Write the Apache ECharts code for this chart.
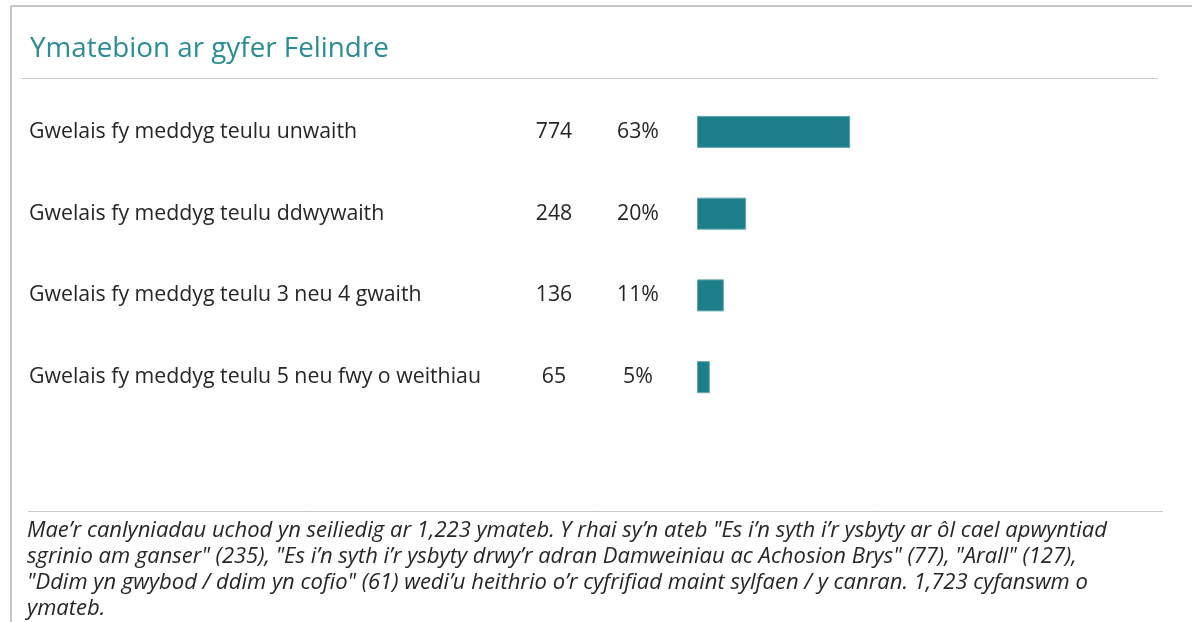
<!DOCTYPE html>
<html>
<head>
<meta charset="utf-8">
<script src="https://cdn.jsdelivr.net/npm/echarts@6/dist/echarts.min.js"></script>
<style>
html,body{margin:0;padding:0;background:#fff;}
#chart{width:1192px;height:622px;}
</style>
</head>
<body>
<div id="chart"></div>
<script>
const titleText = 'Ymatebion ar gyfer Felindre';
const categories = [
  'Gwelais fy meddyg teulu unwaith',
  'Gwelais fy meddyg teulu ddwywaith',
  'Gwelais fy meddyg teulu 3 neu 4 gwaith',
  'Gwelais fy meddyg teulu 5 neu fwy o weithiau'
];
const counts = [774, 248, 136, 65];
const percents = [63.3, 20.3, 11.1, 5.3];
const percentLabels = ['63%', '20%', '11%', '5%'];
const footnoteLines = [
  'Mae\u2019r canlyniadau uchod yn seiliedig ar 1,223 ymateb. Y rhai sy\u2019n ateb "Es i\u2019n syth i\u2019r ysbyty ar \u00f4l cael apwyntiad',
  'sgrinio am ganser" (235), "Es i\u2019n syth i\u2019r ysbyty drwy\u2019r adran Damweiniau ac Achosion Brys" (77), "Arall" (127),',
  '"Ddim yn gwybod / ddim yn cofio" (61) wedi\u2019u heithrio o\u2019r cyfrifiad maint sylfaen / y canran. 1,723 cyfanswm o',
  'ymateb.'
];

const FONT = '"Open Sans", Lato, sans-serif';
const TEXT = '#262626';
const chart = echarts.init(document.getElementById('chart'), null, {renderer: 'canvas'});

const gridLeft = 697;
chart.setOption({
  animation: false,
  title: {
    text: titleText,
    left: 25, top: 30,
    textStyle: {color: '#2a8c94', fontSize: 27.8, fontWeight: 'normal', fontFamily: FONT}
  },
  grid: {left: gridLeft, width: 242, top: 91, height: 327},
  xAxis: {type: 'value', min: 0, max: 100, show: false},
  yAxis: {
    type: 'category', data: categories, inverse: true,
    axisLine: {show: false}, axisTick: {show: false}, splitLine: {show: false},
    axisLabel: {
      align: 'left', margin: gridLeft - 29,
      formatter: function (v, i) {
        return '{a|' + v + '}{b|' + counts[i] + '}{c|' + percentLabels[i] + '}';
      },
      rich: {
        a: {width: 491, align: 'left', fontSize: 21.3, color: TEXT, fontFamily: FONT},
        b: {width: 68, align: 'center', fontSize: 21.3, color: TEXT, fontFamily: FONT},
        c: {width: 100, align: 'center', fontSize: 21.3, color: TEXT, fontFamily: FONT}
      }
    }
  },
  series: [{
    type: 'bar', data: percents, barWidth: 32,
    itemStyle: {color: '#1d7f89', borderColor: '#62a6ac', borderWidth: 1}
  }],
  graphic: [
    {type: 'line', shape: {x1: 11, y1: 6, x2: 1192, y2: 6}, style: {stroke: '#c6c6c6', lineWidth: 2}},
    {type: 'line', shape: {x1: 11, y1: 6, x2: 11, y2: 622}, style: {stroke: '#c6c6c6', lineWidth: 2}},
    {type: 'line', shape: {x1: 22, y1: 78.5, x2: 1158, y2: 78.5}, style: {stroke: '#c8c8c8', lineWidth: 1}},
    {type: 'line', shape: {x1: 28, y1: 511.5, x2: 1163, y2: 511.5}, style: {stroke: '#c8c8c8', lineWidth: 1}},
    {type: 'text', left: 27, top: 518, style: {
      text: footnoteLines.join('\n'), fill: TEXT, fontSize: 22, fontStyle: 'italic',
      fontFamily: FONT, lineHeight: 26
    }}
  ]
});
</script>
</body>
</html>
